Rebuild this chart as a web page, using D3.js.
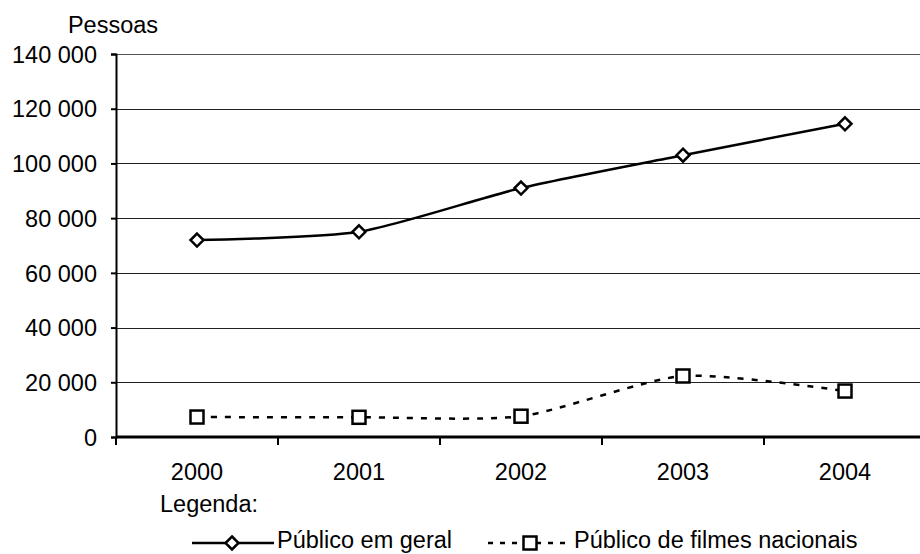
<!DOCTYPE html>
<html>
<head>
<meta charset="utf-8">
<script src="https://cdn.jsdelivr.net/npm/d3@7"></script>
<style>
  body { margin: 0; background: #fff; }
  text { font-family: "Liberation Sans", Arial, sans-serif; fill: #000; }
</style>
</head>
<body>
<svg width="920" height="554"></svg>
<script>
const years = ['2000', '2001', '2002', '2003', '2004'];
const publicoGeral = [72000, 75000, 91000, 103000, 114500];
const publicoNacional = [7300, 7200, 7600, 22300, 16800];
const yTicks = [0, 20000, 40000, 60000, 80000, 100000, 120000, 140000];

const margin = { top: 54, left: 116, bottom: 117, right: -6 };
const width = 920;
const height = 554;
const fontSize = '23.5px';

const svg = d3.select('svg');

const xScale = d3.scaleBand()
    .domain(years)
    .range([margin.left, width - margin.right]);

const yScale = d3.scaleLinear()
    .domain([0, 140000])
    .range([height - margin.bottom, margin.top]);

const fmt = v => d3.format(',')(v).replace(/,/g, ' ');

// gridlines
svg.append('g')
    .selectAll('line')
    .data(yTicks.filter(d => d > 0))
    .join('line')
    .attr('x1', margin.left)
    .attr('x2', width)
    .attr('y1', d => Math.round(yScale(d)) + 0.5)
    .attr('y2', d => Math.round(yScale(d)) + 0.5)
    .attr('stroke', d => d === 140000 ? '#555' : '#222')
    .attr('stroke-width', 1);

// y-axis
const yAxis = svg.append('g')
    .attr('transform', `translate(${margin.left}, 0)`)
    .call(d3.axisLeft(yScale).tickValues(yTicks).tickFormat(fmt).tickSize(5).tickPadding(14));
yAxis.attr('font-size', null).attr('font-family', null);
yAxis.select('.domain').attr('stroke-width', 2);
yAxis.selectAll('.tick line').attr('stroke-width', 2);
yAxis.selectAll('text').style('font-size', fontSize).attr('dy', '0.35em');

// x-axis
const xAxis = svg.append('g')
    .attr('transform', `translate(0, ${yScale(0)})`)
    .call(d3.axisBottom(xScale).tickSize(0).tickPadding(26));
xAxis.attr('font-size', null).attr('font-family', null);
xAxis.select('.domain').attr('stroke-width', 3).attr('d', `M${margin.left},0H${width}`);
xAxis.selectAll('text').style('font-size', fontSize);
svg.append('g')
    .selectAll('line')
    .data(years)
    .join('line')
    .attr('x1', d => xScale(d))
    .attr('x2', d => xScale(d))
    .attr('y1', yScale(0))
    .attr('y2', yScale(0) + 8)
    .attr('stroke', '#000')
    .attr('stroke-width', 2);

const cx = d => xScale(d) + xScale.bandwidth() / 2;

const line = d3.line()
    .x((d, i) => cx(years[i]))
    .y(d => yScale(d))
    .curve(d3.curveCardinal.tension(0.3));

svg.append('path')
    .datum(publicoGeral)
    .attr('fill', 'none')
    .attr('stroke', '#000')
    .attr('stroke-width', 2.5)
    .attr('d', line);

svg.append('path')
    .datum(publicoNacional)
    .attr('fill', 'none')
    .attr('stroke', '#000')
    .attr('stroke-width', 2.5)
    .attr('stroke-dasharray', '6,8')
    .attr('d', line);

const diamond = (g, x, y) => g.append('path')
    .attr('d', `M${x},${y - 6.5}L${x + 6.5},${y}L${x},${y + 6.5}L${x - 6.5},${y}Z`)
    .attr('fill', '#fff')
    .attr('stroke', '#000')
    .attr('stroke-width', 2.5);

const square = (g, x, y) => g.append('rect')
    .attr('x', x - 6.5).attr('y', y - 6.5)
    .attr('width', 13).attr('height', 13)
    .attr('fill', '#fff')
    .attr('stroke', '#000')
    .attr('stroke-width', 2.5);

const marks = svg.append('g');
publicoGeral.forEach((v, i) => diamond(marks, cx(years[i]), yScale(v)));
publicoNacional.forEach((v, i) => square(marks, cx(years[i]), yScale(v)));

// axis title
svg.append('text')
    .attr('x', 113)
    .attr('y', 33)
    .attr('text-anchor', 'middle')
    .style('font-size', fontSize)
    .text('Pessoas');

// legend
svg.append('text')
    .attr('x', 160)
    .attr('y', 512)
    .style('font-size', fontSize)
    .text('Legenda:');

const ly = 543;
const leg = svg.append('g');
leg.append('line').attr('x1', 192).attr('x2', 274).attr('y1', ly).attr('y2', ly)
    .attr('stroke', '#000').attr('stroke-width', 2.5);
diamond(leg, 232, ly);
leg.append('text').attr('x', 277).attr('y', ly + 5).style('font-size', fontSize).text('Público em geral');

leg.append('line').attr('x1', 488).attr('x2', 571).attr('y1', ly).attr('y2', ly)
    .attr('stroke', '#000').attr('stroke-width', 2.5).attr('stroke-dasharray', '5,7');
square(leg, 530, ly);
leg.append('text').attr('x', 574).attr('y', ly + 5).style('font-size', fontSize).text('Público de filmes nacionais');
</script>
</body>
</html>
